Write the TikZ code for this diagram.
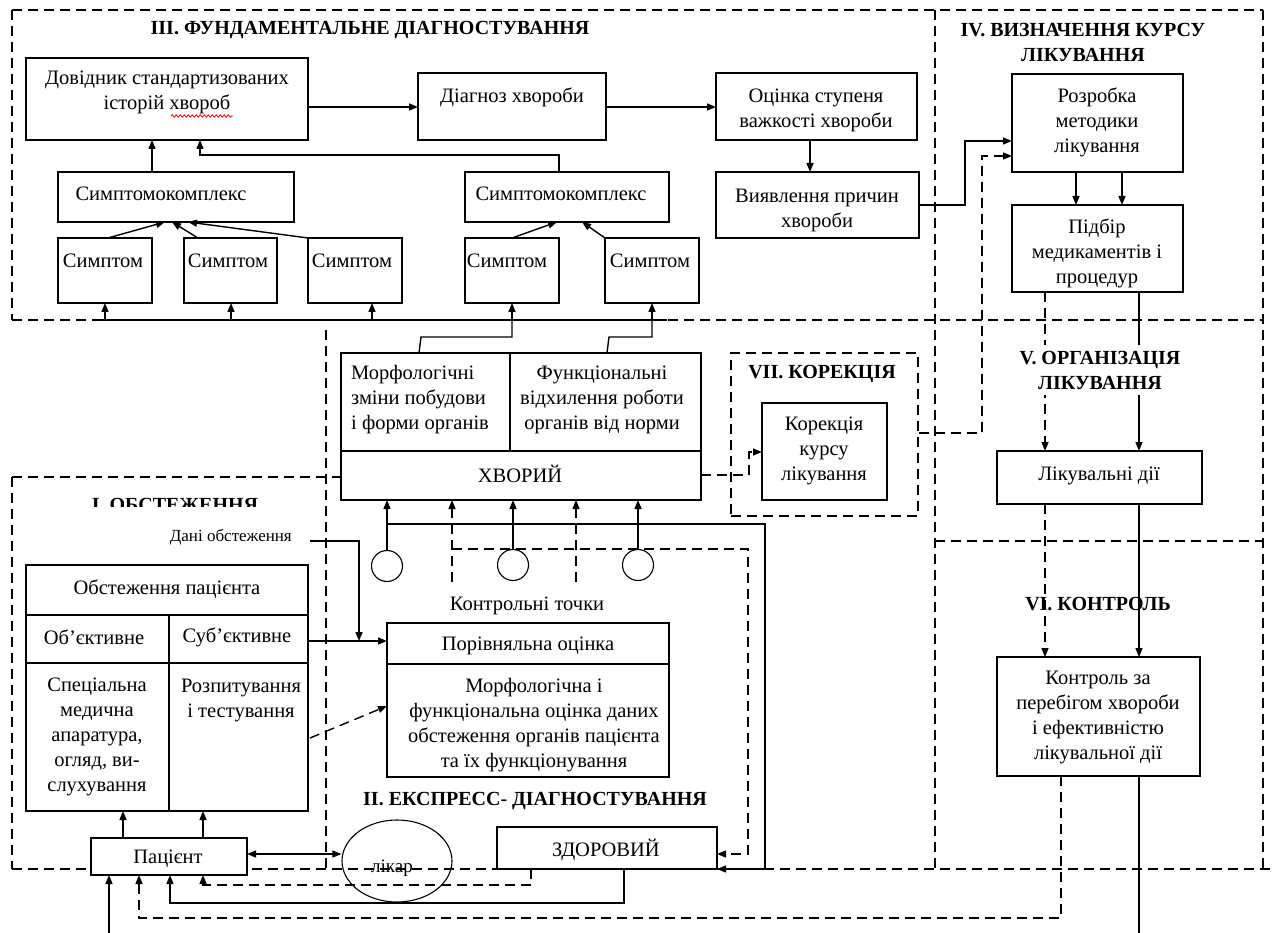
\documentclass[tikz,border=0pt]{standalone}
\usepackage{fontspec}
\setmainfont{Liberation Serif}
\usetikzlibrary{arrows.meta,fit,shapes.geometric,decorations.pathmorphing}
\begin{document}
\begin{tikzpicture}[x=1pt,y=-1pt,
  box/.style={draw, line width=1.4pt, fill=white, inner sep=0pt, outer sep=0pt},
  txt/.style={align=center, inner sep=0pt, font=\fontsize{20.5}{25}\selectfont},
  ttl/.style={align=center, inner sep=0pt, font=\bfseries\fontsize{20}{25}\selectfont},
  ln/.style={line width=1.4pt},
  dsh/.style={line width=1.4pt, dash pattern=on 10pt off 6pt},
  tip/.style={-{Triangle[length=9pt,width=7pt]}},
  arr/.style={ln, tip},
  darr/.style={dsh, tip},
  circ/.style={draw, circle, line width=1.1pt, minimum size=31pt, inner sep=0pt},
]
\useasboundingbox (0,0) rectangle (1272,933);

% ---------- dashed regions ----------
\draw[dsh] (12,10) -- (1263,10);
\draw[dsh] (12,10) -- (12,320);
\draw[dsh] (12,320) -- (1263,320);
\draw[dsh] (935,10) -- (935,869);
\draw[dsh] (1263,10) -- (1263,869);
\draw[dsh] (935,541) -- (1263,541);
\draw[dsh] (12,869) -- (1272,869);
\draw[dsh] (12,477) -- (12,869);
\draw[dsh] (12,477) -- (341,477);
\draw[dsh] (326,330) -- (326,869);
\node[dsh, draw, inner sep=0pt, fit={(731,353) (918,516)}] (reg7) {};

% ---------- boxes ----------
\node[box, fit={(26,58) (308,140)}] (dov) {};
\node[box, fit={(418,73) (606,140)}] (diag) {};
\node[box, fit={(716,73) (917,140)}] (ocin) {};
\node[box, fit={(716,172) (919,238)}] (vyav) {};
\node[box, fit={(58,172) (294,222)}] (sk1) {};
\node[box, fit={(465,172) (669,222)}] (sk2) {};
\node[box, fit={(58,238) (152,303)}] (s1) {};
\node[box, fit={(184,238) (277,303)}] (s2) {};
\node[box, fit={(308,238) (402,303)}] (s3) {};
\node[box, fit={(465,238) (559,303)}] (s4) {};
\node[box, fit={(605,238) (699,303)}] (s5) {};
\node[box, fit={(1012,74) (1183,172)}] (rozr) {};
\node[box, fit={(1012,205) (1183,292)}] (pidb) {};
\node[box, fit={(997,451) (1202,504)}] (likd) {};
\node[box, fit={(997,657) (1200,776)}] (kontr) {};
\node[box, fit={(762,403) (887,500)}] (kor) {};
\node[box, fit={(341,353) (510,451)}] (morf) {};
\node[box, fit={(510,353) (701,451)}] (funk) {};
\node[box, fit={(341,451) (701,500)}] (khv) {};
\node[box, fit={(26,565) (308,615)}] (tabh) {};
\node[box, fit={(26,615) (169,663)}] (obj) {};
\node[box, fit={(169,615) (308,663)}] (sub) {};
\node[box, fit={(26,663) (169,811)}] (spec) {};
\node[box, fit={(169,663) (308,811)}] (rozp) {};
\node[box, fit={(387,623) (669,664)}] (por) {};
\node[box, fit={(387,664) (669,777)}] (morfo) {};
\node[box, fit={(91,838) (247,875)}] (pac) {};
\node[box, fit={(497,827) (717,869)}] (zdor) {};
\node[draw, ellipse, line width=1.1pt, minimum width=110pt, minimum height=82pt, inner sep=0pt] (lik) at (397,861) {};
\node[circ] (c1) at (387,566) {};
\node[circ] (c2) at (513,565) {};
\node[circ] (c3) at (638,565) {};

% ---------- texts in boxes ----------
\node[txt] (dovt) at (167,92) {Довідник стандартизованих\\історій хвороб};
\draw[red, line width=0.8pt, decorate, decoration={snake, amplitude=1.2pt, segment length=4pt}] (171,116) -- (233,116);
\node[txt] (diagt) at (512,97) {Діагноз хвороби};
\node[txt] (ocint) at (816,110) {Оцінка ступеня\\важкості хвороби};
\node[txt] (vyavt) at (817,210) {Виявлення причин\\хвороби};
\node[txt] (sk1t) at (161,194) {Симптомокомплекс};
\node[txt] (sk2t) at (561,194) {Симптомокомплекс};
\node[txt] (s1t) at (103,261) {Симптом};
\node[txt] (s2t) at (228,261) {Симптом};
\node[txt] (s3t) at (352,261) {Симптом};
\node[txt] (s4t) at (507,261) {Симптом};
\node[txt] (s5t) at (650,261) {Симптом};
\node[txt] (rozrt) at (1097,122) {Розробка\\методики\\лікування};
\node[txt] (pidbt) at (1097,253) {Підбір\\медикаментів і\\процедур};
\node[txt] (likdt) at (1099,476) {Лікувальні дії};
\node[txt] (kontrt) at (1098,717) {Контроль за\\перебігом хвороби\\і ефективністю\\лікувальної дії};
\node[txt] (kort) at (824,451) {Корекція\\курсу\\лікування};
\node[txt, align=left, anchor=west] (morft) at (351,400) {Морфологічні\\зміни побудови\\і форми органів};
\node[txt] (funkt) at (602,400) {Функціональні\\відхилення роботи\\органів від норми};
\node[txt] (khvt) at (520,474) {ХВОРИЙ};
\node[txt] (tabht) at (167,589) {Обстеження пацієнта};
\node[txt] (objt) at (94,637) {Об’єктивне};
\node[txt] (subt) at (237,637) {Суб’єктивне};
\node[txt] (spect) at (97,737) {Спеціальна\\медична\\апаратура,\\огляд, ви-\\слухування};
\node[txt] (rozpt) at (241,700) {Розпитування\\і тестування};
\node[txt] (port) at (528,646) {Порівняльна оцінка};
\node[txt] (morfot) at (534,725) {Морфологічна і\\функціональна оцінка даних\\обстеження органів пацієнта\\та їх функціонування};
\node[txt] (pact) at (168,859) {Пацієнт};
\node[txt] (zdort) at (606,850) {ЗДОРОВИЙ};
\node[txt, font=\fontsize{19}{22}\selectfont] (likt) at (392,868) {лікар};
\node[txt] (kt) at (527,606) {Контрольні точки};

% ---------- connectors, part III ----------
\draw[arr] (dov.east |- 0,107) -- (diag.west |- 0,107);
\draw[arr] (diag.east |- 0,107) -- (ocin.west |- 0,107);
\draw[arr] (810,0 |- ocin.south) -- (810,0 |- vyav.north);
\draw[arr] (vyav.east |- 0,205) -- (965,205) -- (965,141) -- (rozr.west |- 0,141);
\draw[arr] (152,0 |- sk1.north) -- (152,0 |- dov.south);
\draw[arr] (559,0 |- sk2.north) -- (559,155) -- (200,155) -- (200,0 |- dov.south);
\draw[arr] (108,0 |- s1.north) -- (165,0 |- sk1.south);
\draw[arr] (198,0 |- s2.north) -- (172,0 |- sk1.south);
\draw[arr] (s3.north west) -- (188,0 |- sk1.south);
\draw[arr] (512,0 |- s4.north) -- (557,0 |- sk2.south);
\draw[arr] (s5.north west) -- (582,0 |- sk2.south);
\draw[ln] (94,320) -- (667,320);
\draw[arr] (105,320) -- (105,0 |- s1.south);
\draw[arr] (231,320) -- (231,0 |- s2.south);
\draw[arr] (372,320) -- (372,0 |- s3.south);
\draw[arr] (512,320) -- (512,0 |- s4.south);
\draw[arr] (652,320) -- (652,0 |- s5.south);
\draw[ln] (419,0 |- morf.north) -- (421,337) -- (512,337) -- (512,320);
\draw[ln] (607,0 |- funk.north) -- (609,337) -- (652,337) -- (652,320);

% ---------- IV, V, VI, VII ----------
\draw[darr] (reg7.east |- 0,433) -- (982,433) -- (982,156) -- (rozr.west |- 0,156);
\draw[arr] (1076,0 |- rozr.south) -- (1076,0 |- pidb.north);
\draw[arr] (1122,0 |- rozr.south) -- (1122,0 |- pidb.north);
\draw[darr] (1045,0 |- pidb.south) -- (1045,0 |- likd.north);
\draw[arr] (1139,0 |- pidb.south) -- (1139,0 |- likd.north);
\draw[darr] (1045,0 |- likd.south) -- (1045,0 |- kontr.north);
\draw[arr] (1139,0 |- likd.south) -- (1139,0 |- kontr.north);
\draw[darr] (khv.east |- 0,475) -- (749,475) -- (749,452) -- (kor.west |- 0,452);

% ---------- I, II ----------
\draw[arr] (c1.north) -- (c1.north |- khv.south);
\draw[arr] (c2.north) -- (c2.north |- khv.south);
\draw[arr] (c3.north) -- (c3.north |- khv.south);
\draw[darr] (452,582) -- (452,0 |- khv.south);
\draw[darr] (576,582) -- (576,0 |- khv.south);
\draw[arr] (387,524) -- (765,524) -- (765,869) -- (zdor.south east);
\draw[darr] (452,549) -- (748,549) -- (748,854) -- (zdor.east |- 0,854);
\coordinate (dend) at (310,541);
\draw[arr] (dend) -- (359,541) -- (359,0 |- 0,641);
\draw[arr] (sub.east |- 0,641) -- (por.west |- 0,641);
\draw[darr] (310,738) -- (morfo.west |- 0,706);
\draw[arr] (123,0 |- pac.north) -- (123,0 |- spec.south);
\draw[arr] (203,0 |- pac.north) -- (203,0 |- rozp.south);
\draw[ln, {Triangle[length=9pt,width=7pt]}-{Triangle[length=9pt,width=7pt]}] (pac.east |- 0,854) -- (lik.west |- 0,854);
\draw[darr] (531,0 |- zdor.south) -- (531,885) -- (203,885) -- (203,0 |- pac.south);
\draw[arr] (624,0 |- zdor.south) -- (624,903) -- (170,903) -- (170,0 |- pac.south);
\draw[darr] (1061,0 |- kontr.south) -- (1061,918) -- (139,918) -- (139,0 |- pac.south);
\coordinate (kbot) at (1139,933);
\draw[ln] (1139,0 |- kontr.south) -- (kbot);
\coordinate (pbot) at (109,933);
\draw[arr] (pbot) -- (109,0 |- pac.south);

% ---------- titles ----------
\node[ttl] (t3) at (370,30) {III. ФУНДАМЕНТАЛЬНЕ ДІАГНОСТУВАННЯ};
\node[ttl] (t4) at (1083,42) {IV. ВИЗНАЧЕННЯ КУРСУ\\ЛІКУВАННЯ};
\node[ttl, fill=white, inner ysep=6pt, inner xsep=2pt] (t5) at (1100,370) {V. ОРГАНІЗАЦІЯ\\ЛІКУВАННЯ};
\node[ttl] (t6) at (1098,604) {VI. КОНТРОЛЬ};
\node[ttl] (t7) at (822,374) {VII. КОРЕКЦІЯ};
\node[ttl] (t2) at (535,801) {II. ЕКСПРЕСС- ДІАГНОСТУВАННЯ};
\node[ttl] (t1) at (175,505) {I. ОБСТЕЖЕННЯ};
\fill[white] (80,507) rectangle (300,528);
\node[txt, font=\fontsize{17}{20}\selectfont, anchor=east] (dani) at (292,537) {Дані обстеження};
\end{tikzpicture}
\end{document}
